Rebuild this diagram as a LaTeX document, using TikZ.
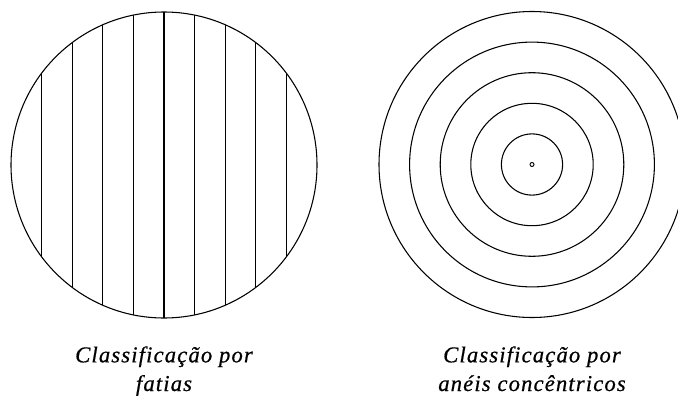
\documentclass[tikz,border=0pt]{standalone}
\usepackage{fontspec}
\usetikzlibrary{calc}
\setmainfont{Liberation Serif}
\newfontfamily\capfont[LetterSpace=5,FakeBold=0.6]{Liberation Serif Italic}
\begin{document}
\begin{tikzpicture}[x=0.75pt,y=-0.75pt,
  ring/.style={line width=0.8pt},
  slice/.style={line width=0.8pt},
  caption/.style={font=\capfont\fontsize{17}{21.5}\selectfont,align=center,anchor=base,inner sep=0pt}]
\useasboundingbox (0,0) rectangle (678,396);
\clip (0,0) rectangle (678,396);
% left: slices
\coordinate (L) at (164,165);
\draw[ring] (L) circle[radius=153];
\begin{scope}
\clip (L) circle[radius=153];
\foreach \k in {-4,...,4}{
  \draw[slice] ($(L)+(\k*30.6,-160)$) -- ($(L)+(\k*30.6,160)$);
}
\end{scope}
% right: concentric rings
\coordinate (R) at (532,164.5);
\foreach \k in {1,...,5}{
  \draw[ring] (R) circle[radius=\k*30.6];
}
\draw[line width=0.7pt] (R) circle[radius=2];
% captions (base anchor = baseline of the last line)
\node[caption] (capL) at (164,391) {Classificação por\\fatias};
\node[caption] (capR) at (532,391) {Classificação por\\anéis concêntricos};
\end{tikzpicture}
\end{document}
